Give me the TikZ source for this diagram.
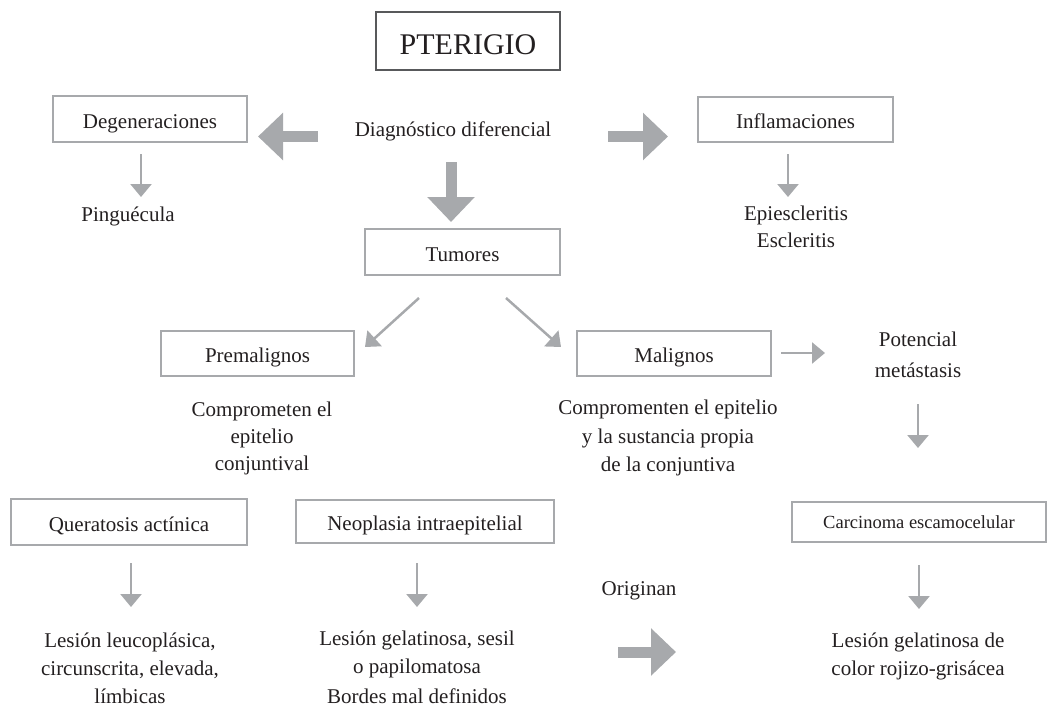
\documentclass[tikz,border=0pt]{standalone}
\usepackage{fontspec}
\setmainfont{Liberation Serif}
\usetikzlibrary{arrows.meta}
\definecolor{txt}{HTML}{231F20}
\definecolor{lgray}{HTML}{A7A9AC}
\definecolor{dgray}{HTML}{58595B}
\tikzset{
  box/.style={draw=lgray, line width=2.5pt, inner sep=0pt, text=txt, text height=20pt, text depth=2pt, font=\fontsize{21}{27}\selectfont},
  lbl/.style={inner sep=0pt, text=txt, align=center, font=\fontsize{21}{27}\selectfont},
  tarrow/.style={draw=lgray, line width=2.5pt, -{Triangle[width=21pt,length=13pt]}},
  barrow/.style={draw=lgray, fill=lgray, line width=11pt, -{Triangle[width=46pt,length=25pt]}}
}
\begin{document}
\begin{tikzpicture}[x=1pt,y=-1pt]
\useasboundingbox (0,0) rectangle (1048,710);
% boxes
\node[box, draw=dgray, line width=2pt, minimum width=184pt, minimum height=58pt, text height=28pt, text depth=2pt, font=\fontsize{30}{36}\selectfont] (pter) at (468,41) {PTERIGIO};
\node[box, minimum width=194pt, minimum height=46pt] (deg) at (150,119) {Degeneraciones};
\node[box, minimum width=195pt, minimum height=45pt] (infl) at (795.5,119.5) {Inflamaciones};
\node[box, minimum width=195pt, minimum height=46pt] (tum) at (462.5,252) {Tumores};
\node[box, minimum width=193pt, minimum height=45pt] (prem) at (257.5,353.5) {Premalignos};
\node[box, minimum width=194pt, minimum height=45pt] (malig) at (674,353.5) {Malignos};
\node[box, minimum width=236pt, minimum height=46pt] (quer) at (129,522) {Queratosis actínica};
\node[box, minimum width=258pt, minimum height=43pt] (neo) at (425,521.5) {Neoplasia intraepitelial};
\node[box, minimum width=254pt, minimum height=40pt, text height=15pt, text depth=2pt, font=\fontsize{18.5}{24}\selectfont] (carc) at (919,522) {Carcinoma escamocelular};
% labels
\node[lbl] (diag) at (453,131) {Diagnóstico diferencial};
\node[lbl] (ping) at (128,216) {Pinguécula};
\node[lbl, font=\fontsize{21}{27}\selectfont] (epi) at (796,226.5) {Epiescleritis\\Escleritis};
\node[lbl, font=\fontsize{21}{31}\selectfont] (pot) at (918,355) {Potencial\\metástasis};
\node[lbl, font=\fontsize{21}{27}\selectfont] (comp1) at (262,438) {Comprometen el\\epitelio\\conjuntival};
\node[lbl, font=\fontsize{21}{28.5}\selectfont] (comp2) at (668,438) {Compromenten el epitelio\\y la sustancia propia\\de la conjuntiva};
\node[lbl, font=\fontsize{21}{28}\selectfont] (les1) at (130,668) {Lesión leucoplásica,\\circunscrita, elevada,\\límbicas};
\node[lbl, font=\fontsize{21}{28}\selectfont] (les2) at (417,667) {Lesión gelatinosa, sesil\\o papilomatosa\\[2pt]Bordes mal definidos};
\node[lbl, font=\fontsize{21}{28}\selectfont] (les3) at (918,656) {Lesión gelatinosa de\\color rojizo-grisácea};
\node[lbl] (orig) at (639,591) {Originan};
% big arrows
\coordinate (bl1) at (318,136.5); \coordinate (bl2) at (258,136.5);
\coordinate (br1) at (608,136.5); \coordinate (br2) at (668,136.5);
\coordinate (bd1) at (451,162);   \coordinate (bd2) at (451,222);
\coordinate (bb1) at (618,652);   \coordinate (bb2) at (676,652);
\draw[barrow] (bl1) -- (bl2);
\draw[barrow] (br1) -- (br2);
\draw[barrow] (bd1) -- (bd2);
\draw[barrow] (bb1) -- (bb2);
% thin arrows
\coordinate (t1a) at (141,154); \coordinate (t1b) at (141,197);
\coordinate (t2a) at (788,154); \coordinate (t2b) at (788,197);
\coordinate (t3a) at (419,298); \coordinate (t3b) at (365,347);
\coordinate (t4a) at (506,298); \coordinate (t4b) at (561,347);
\coordinate (t5a) at (781,353); \coordinate (t5b) at (825,353);
\coordinate (t6a) at (918,404); \coordinate (t6b) at (918,448);
\coordinate (t7a) at (131,563); \coordinate (t7b) at (131,607);
\coordinate (t8a) at (417,563); \coordinate (t8b) at (417,607);
\coordinate (t9a) at (919,565); \coordinate (t9b) at (919,609);
\draw[tarrow] (t1a) -- (t1b);
\draw[tarrow] (t2a) -- (t2b);
\draw[tarrow] (t3a) -- (t3b);
\draw[tarrow] (t4a) -- (t4b);
\draw[tarrow] (t5a) -- (t5b);
\draw[tarrow] (t6a) -- (t6b);
\draw[tarrow] (t7a) -- (t7b);
\draw[tarrow] (t8a) -- (t8b);
\draw[tarrow] (t9a) -- (t9b);
\end{tikzpicture}
\end{document}
